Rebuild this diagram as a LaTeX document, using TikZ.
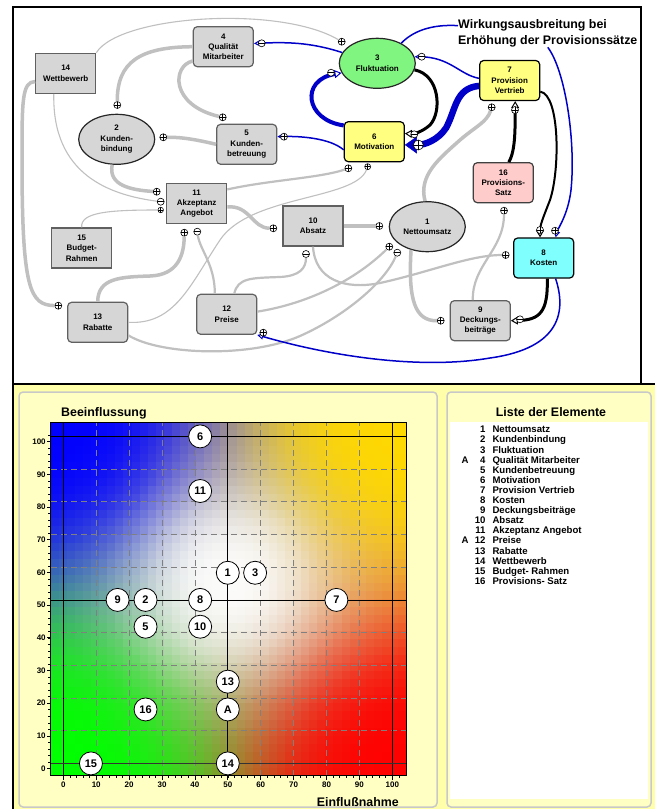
\documentclass[tikz,border=0pt]{standalone}
\usepackage{fontspec}
\setmainfont{Liberation Sans}
\usetikzlibrary{shapes.geometric,arrows.meta}

\definecolor{boxfill}{RGB}{214,214,214}
\definecolor{boxline}{RGB}{96,96,96}
\definecolor{lgray}{RGB}{192,192,192}
\definecolor{effblue}{RGB}{0,0,200}
\definecolor{flgreen}{RGB}{128,245,128}
\definecolor{motyellow}{RGB}{255,255,128}
\definecolor{satzpink}{RGB}{255,204,204}
\definecolor{kostcyan}{RGB}{128,255,255}
\definecolor{bgyellow}{RGB}{255,255,170}
\definecolor{panelyellow}{RGB}{255,255,196}
\definecolor{panelline}{RGB}{200,200,200}
\definecolor{gridgray}{RGB}{128,128,128}

% inverse distance weight for the colour field
\pgfmathdeclarefunction{wgt}{2}{\pgfmathparse{1/(((#1)*(#1)+(#2)*(#2)+0.01)^1.5)}}

\tikzset{
  box/.style={draw=boxline, fill=boxfill, line width=1.2pt, minimum width=60pt, minimum height=40pt,
    inner sep=1pt, align=center, font=\fontsize{8}{10.3}\selectfont\bfseries},
  rbox/.style={box, rounded corners=4pt},
  oval/.style={box, ellipse, draw=black!85, minimum width=76pt, minimum height=50pt},
  sgn/.style={circle, draw, fill=white, inner sep=0pt, minimum size=7pt, line width=0.6pt},
  incr/.style={sgn, path picture={\draw[line width=0.6pt] (path picture bounding box.north) -- (path picture bounding box.south)
    (path picture bounding box.west) -- (path picture bounding box.east);}},
  decr/.style={sgn, path picture={\draw[line width=0.6pt] (path picture bounding box.west) -- (path picture bounding box.east);}},
  gk/.style={draw=lgray, line width=3.5pt},
  gm/.style={draw=lgray, line width=2.2pt},
  gt/.style={draw=lgray, line width=1.1pt},
  bt/.style={draw=effblue, line width=1.5pt, -{Triangle[fill=white, length=6pt, width=6pt, line width=1pt]}},
  bthick/.style={draw=effblue, line width=4pt, -{Triangle[fill=white, length=7pt, width=8pt, line width=1pt]}},
  bvt/.style={draw=effblue, line width=6.5pt, -{Triangle[length=12pt, width=17pt, line width=0.5pt]}},
  bk/.style={draw=black, line width=3pt, -{Triangle[fill=white, length=7pt, width=8pt, line width=1pt]}},
  elem/.style={circle, draw, fill=white, minimum size=23pt, inner sep=0pt, line width=0.8pt,
    font=\fontsize{11}{11}\selectfont\bfseries},
  grid/.style={gridgray, line width=0.8pt, dash pattern=on 6pt off 4pt},
  tick/.style={inner sep=0pt, font=\fontsize{8}{8}\selectfont\bfseries},
  listnum/.style={anchor=base east, inner sep=0pt, font=\fontsize{9.6}{10}\selectfont\bfseries},
  listtxt/.style={anchor=base west, inner sep=0pt, font=\fontsize{9.6}{10}\selectfont\bfseries},
  headline/.style={inner sep=0pt, font=\fontsize{12.4}{15.7}\selectfont\bfseries}
}

\begin{document}
\begin{tikzpicture}[x=1pt,y=-1pt]
\useasboundingbox (0,0) rectangle (655,809);
\fill[white] (0,0) rectangle (655,809);

% ---------- lower part: background and panels
\fill[bgyellow] (13,384) rectangle (655,809);
\draw[panelline, fill=panelyellow, line width=1.5pt, rounded corners=4pt] (19,392) rectangle (437,807);
\draw[panelline, fill=panelyellow, line width=1.5pt, rounded corners=4pt] (447,392) rectangle (651,807);
\fill[white] (450,422) rectangle (648,799);

% ---------- frame of the upper part
\draw[line width=1.5pt] (13,7) rectangle (641,384);
\draw[line width=1.5pt] (13,384) -- (655,384);
\draw[line width=1.5pt] (13,384) -- (13,809);

% ---------- elements
\node[box] (n14) at (65.7,73.3) {14\\Wettbewerb};
\node[rbox] (n4) at (223.3,46.7) {4\\Qualität\\Mitarbeiter};
\node[oval] (n2) at (116.7,139.3) {2\\Kunden-\\bindung};
\node[rbox] (n5) at (246.7,144.3) {5\\Kunden-\\betreuung};
\node[box] (n11) at (196.7,203.7) {11\\Akzeptanz\\Angebot};
\node[oval, fill=flgreen] (n3) at (377.3,63.3) {3\\Fluktuation};
\node[rbox, draw=black, fill=motyellow] (n6) at (374.3,141.7) {6\\Motivation};
\node[rbox, draw=black, fill=motyellow] (n7) at (509.7,80.5) {7\\Provision\\Vertrieb};
\node[rbox, draw=black!75, fill=satzpink] (n16) at (503.3,182.7) {16\\Provisions-\\Satz};
\node[box] (n10) at (313,226) {10\\Absatz};
\node[oval] (n1) at (427.3,226.7) {1\\Nettoumsatz};
\node[rbox, draw=black, fill=kostcyan] (n8) at (543.7,258) {8\\Kosten};
\node[rbox] (n9) at (480.3,320.7) {9\\Deckungs-\\beiträge};
\node[box] (n15) at (81.7,248) {15\\Budget-\\Rahmen};
\node[rbox] (n13) at (97.7,322.3) {13\\Rabatte};
\node[rbox] (n12) at (226.7,314.3) {12\\Preise};

\node[headline, anchor=base west] (title1) at (458,28.8) {Wirkungsausbreitung bei};
\node[headline, anchor=base west] (title2) at (458,44.5) {Erhöhung der Provisionssätze};

% ---------- signs on the grey links
\node[incr] (s42) at (117.3,105) {};
\node[incr] (s45) at (222.7,117.3) {};
\node[incr] (s52) at (163.3,137.3) {};
\node[incr] (s211) at (156.7,191.7) {};
\node[decr] (s1411) at (160.7,201.7) {};
\node[incr, minimum size=5.5pt] (s1511) at (160.7,210) {};
\node[incr] (s1413) at (58.3,305.7) {};
\node[incr] (s143) at (341.7,41.7) {};
\node[incr] (s116) at (348.3,168.3) {};
\node[incr, minimum size=6pt] (s136) at (367.7,166.7) {};
\node[incr] (s1311) at (184.3,232.7) {};
\node[decr] (s1211) at (197.3,231.7) {};
\node[decr] (s1210) at (306,254) {};
\node[incr] (s121) at (389.3,246.7) {};
\node[decr] (s131) at (397.3,252.7) {};
\node[incr] (s108) at (505.7,255) {};
\node[incr] (s101) at (379.3,226) {};
\node[incr] (s1110) at (273.3,228.3) {};
\node[incr] (s19) at (440.7,320.7) {};
\node[incr] (s916) at (504,210.7) {};
\node[incr] (s17) at (491.7,107.3) {};

% grey links
\draw[gk] (n4.west) .. controls (140,47) and (117,62) .. (s42);
\draw[gk] (n4.205) .. controls (172,66) and (170,105) .. (s45);
\draw[gk] (n5.west) .. controls (198,140) and (182,137) .. (s52);
\draw[gk] (n2.260) .. controls (108,185) and (130,190) .. (s211);
\draw[gt] (n14.240) .. controls (52,175) and (110,195) .. (s1411);
\draw[gt] (n15.north) .. controls (80,212) and (110,210) .. (s1511);
\draw[gk] (n14.195) .. controls (22,82) and (22,100) .. (22,160) .. controls (22,290) and (30,305) .. (s1413);
\draw[gt] (n14.north east) .. controls (120,15) and (280,5) .. (s143);
\draw[gm] (n11.25) .. controls (270,180) and (320,178) .. (s116);
\draw[gt] (n13.east) .. controls (175,325) and (190,285) .. (220,240) .. controls (250,195) and (355,200) .. (s136);
\draw[gk] (n13.north) .. controls (98,278) and (120,277) .. (150,276) .. controls (178,275) and (184,255) .. (s1311);
\draw[gm] (n12.120) .. controls (215,265) and (200,250) .. (s1211);
\draw[gm] (n12.70) .. controls (238,278) and (250,278) .. (280,277) .. controls (300,276) and (306,268) .. (s1210);
\draw[gm] (n12.5) .. controls (300,305) and (350,285) .. (s121);
\draw[gm] (n13.337) .. controls (160,355) and (250,358) .. (300,336) .. controls (345,316) and (385,282) .. (s131);
\draw[gm] (n10.south) .. controls (315,280) and (345,290) .. (380,283) .. controls (430,272) and (470,255) .. (s108);
\draw[gk] (n10.east) -- (s101);
\draw[gk] (n11.354) .. controls (250,205) and (252,228) .. (s1110);
\draw[gk] (n1.235) .. controls (408,300) and (415,321) .. (s19);
\draw[gm] (n9.110) .. controls (472,265) and (504,250) .. (s916);
\draw[gk] (n1.95) .. controls (418,175) and (440,158) .. (460,140) .. controls (475,127) and (487,122) .. (s17);

% black and blue links
\draw[bk] (n3.350) .. controls (440,75) and (442,112) .. (430,125) .. controls (422,132) and (414,134) .. (n6.15);
\draw[bk] (n16.75) .. controls (516,150) and (515,125) .. (n7.285);
\draw[bk, line width=2pt] (n7.340) .. controls (560,95) and (560,170) .. (550,200) .. controls (543,218) and (540,225) .. (n8.100);
\draw[bk] (n8.280) .. controls (548,312) and (540,320) .. (n9.east);
\draw[bt] (n3.163) .. controls (310,42) and (285,42) .. (n4.6);
\draw[bt] (n6.195) .. controls (330,138) and (300,136) .. (n5.14);
\draw[bthick] (n6.152) .. controls (305,120) and (300,80) .. (n3.195);
\draw[bt] (n7.176) .. controls (460,75) and (450,57) .. (n3.10);
\draw[bvt] (n7.190) .. controls (455,88) and (456,110) .. (446,128) .. controls (438,140) and (425,145) .. (n6.354);
\draw[bt] (title2.south) .. controls (565,70) and (576,140) .. (571,190) .. controls (568,215) and (558,228) .. (n8.60);
\draw[effblue, line width=1.5pt] (title1.west) .. controls (430,24) and (412,32) .. (n3.40);
\draw[bt] (n8.300) .. controls (566,310) and (562,348) .. (490,358) .. controls (420,370) and (330,356) .. (n12.south east);

% signs on the black and blue links
\node[decr] (s34) at (261.7,43.3) {};
\node[incr] (s65) at (284,136.7) {};
\node[decr] (s63) at (331,72.7) {};
\node[decr] (s36) at (414.3,134.3) {};
\node[incr, minimum size=10pt] (s76) at (418.3,145) {};
\node[decr] (s73) at (421.7,56.7) {};
\node[incr] (s08) at (555,230.7) {};
\node[incr] (s78) at (540,230) {};
\node[incr] (s812) at (263.3,332.7) {};
\node[incr] (s167) at (515,110) {};
\node[decr] (s89) at (520,319.3) {};

% ---------- portfolio chart
\node[headline, anchor=base west] (ytitle) at (61,416.3) {Beeinflussung};
\node[headline, anchor=base east] (xtitle) at (399,806) {Einflußnahme};
\begin{scope}[shift={(63.3,763.4)}, x=3.29pt, y=3.27pt]
  \foreach \i in {0,...,43}{
    \foreach \j in {0,...,43}{
      \pgfmathsetmacro{\cu}{(\i+0.5)/44}
      \pgfmathsetmacro{\cv}{(\j+0.5)/44}
      \pgfmathsetmacro{\wtl}{wgt(\cu,\cv-1)}
      \pgfmathsetmacro{\wtr}{wgt(\cu-1,\cv-1)}
      \pgfmathsetmacro{\wbl}{wgt(\cu,\cv)}
      \pgfmathsetmacro{\wbr}{wgt(\cu-1,\cv)}
      \pgfmathsetmacro{\wc}{0.4*wgt(\cu-0.5,\cv-0.55)}
      \pgfmathsetmacro{\wsum}{\wtl+\wtr+\wbl+\wbr+\wc}
      \pgfmathsetmacro{\colR}{min(1,(\wtr+\wbr+\wc)/\wsum)}
      \pgfmathsetmacro{\colG}{min(1,(0.85*\wtr+\wbl+\wc)/\wsum)}
      \pgfmathsetmacro{\colB}{min(1,(\wtl+\wc)/\wsum)}
      \definecolor{cell}{rgb}{\colR,\colG,\colB}
      \fill[cell] ({-3.8+\i*2.4545},{-3.8+\j*2.46}) rectangle ++(2.5,2.5);
    }
  }
  \foreach \k in {10,20,...,90}{
    \draw[grid] (\k,-3.8) -- (\k,104.4);
    \draw[grid] (-3.8,\k) -- (104.2,\k);
  }
  \draw[line width=0.8pt] (0,-3.8) -- (0,104.4) (100,-3.8) -- (100,104.4)
    (-3.8,50) -- (104.2,50) (-3.8,100) -- (104.2,100) (50,0) -- (50,104.4);
  \draw[line width=1.3pt, black!80] (-3.8,0) -- (104.2,0);
  \draw[line width=0.8pt] (-3.8,-3.8) rectangle (104.2,104.4);
  \foreach \k in {0,2,...,102}{
    \draw[line width=0.6pt] (-3.8,\k-1.6) -- (-4.5,\k-1.6);
    \draw[line width=0.6pt] (\k,-3.8) -- (\k,-4.5);
  }
  \foreach \k in {0,10,...,100}{
    \draw[line width=0.8pt] (-3.8,\k-1.6) -- (-5,\k-1.6);
    \draw[line width=0.8pt] (\k,-3.8) -- (\k,-5);
    \node[tick, anchor=east] (yl\k) at (-5.3,\k-1.6) {\k};
    \node[tick] (xl\k) at (\k,-6.6) {\k};
  }
  \foreach \lbl/\cx/\cy in {6/41.6/100, 11/41.6/83.3, 1/50/58.3, 3/58.3/58.3, 9/16.5/50, 2/25/50,
      8/41.6/50, 7/83/50, 5/25/41.8, 10/41.6/41.8, 13/50/25, 16/25/16.5, A/50/16.5, 15/8.4/0, 14/50/0}
    \node[elem] (c\lbl) at (\cx,\cy) {\lbl};
\end{scope}

% ---------- list of elements
\node[headline] (listtitle) at (551,412) {Liste der Elemente};
\foreach \idx/\name [count=\k] in {1/Nettoumsatz, 2/Kundenbindung, 3/Fluktuation, 4/Qualität Mitarbeiter,
    5/Kundenbetreuung, 6/Motivation, 7/Provision Vertrieb, 8/Kosten, 9/Deckungsbeiträge, 10/Absatz,
    11/Akzeptanz Angebot, 12/Preise, 13/Rabatte, 14/Wettbewerb, 15/Budget- Rahmen, 16/Provisions- Satz}{
  \node[listnum] (ln\idx) at (485.7,{432.8+10.1*(\k-1)}) {\idx};
  \node[listtxt] (lt\idx) at (492.3,{432.8+10.1*(\k-1)}) {\name};
}
\node[listnum, anchor=base] (la4) at (465,463.1) {A};
\node[listnum, anchor=base] (la12) at (465,543.9) {A};
\end{tikzpicture}
\end{document}
